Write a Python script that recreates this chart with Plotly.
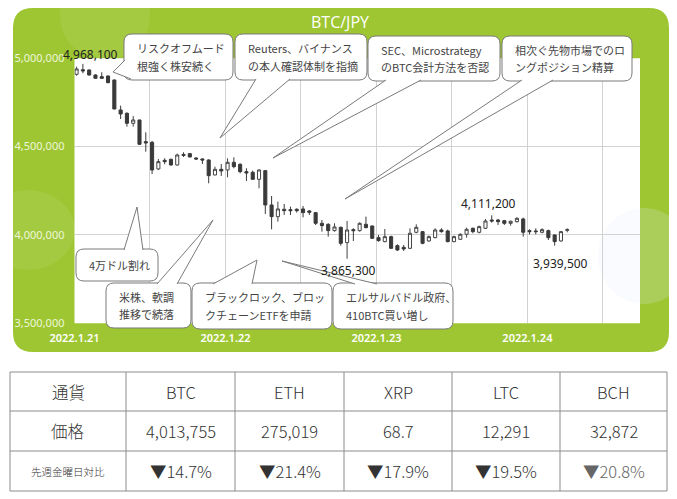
import pandas as pd
import plotly.graph_objects as go

W, H = 677, 499
OFF = 8  # the page body adds an 8px margin, so the figure is drawn 8px smaller and shifted
FW, FH = W - OFF, H - OFF

# hourly BTC/JPY candles from 2022.1.21 (one per hour, 79 bars)
start = "2022-01-21 00:20"
opens = [4909600, 4935600, 4933700, 4905600, 4896100, 4900000, 4877300, 4707500, 4688600, 4632000,
         4650900, 4528300, 4524500, 4373600, 4422600, 4428300, 4396200, 4456000, 4460400, 4435800,
         4430200, 4424500, 4339600, 4371700, 4367900, 4411300, 4400000, 4358500, 4354700, 4315100,
         4364100, 4169800, 4103800, 4145300, 4143400, 4145300, 4147200, 4135800, 4126400, 4066000,
         4060400, 4024500, 4043400, 3956600, 4030200, 4024500, 4060400, 4050900, 3984900, 3962300,
         3990600, 3939600, 3930200, 3924500, 4015100, 4018900, 3966000, 3984900, 4028300, 4022700,
         3962300, 3975500, 4003800, 4037700, 4015100, 4037700, 4084900, 4084900, 4081100, 4066000,
         4075500, 4090600, 4024500, 4022700, 4015100, 4024500, 4000000, 3966000, 4026400]
highs = [4952600, 4968100, 4937500, 4909000, 4920700, 4901900, 4879200, 4732000, 4694400, 4673500,
         4652000, 4581100, 4532000, 4430200, 4434000, 4432000, 4460400, 4467900, 4464200, 4439600,
         4433900, 4428300, 4386800, 4401900, 4433900, 4439600, 4405600, 4377300, 4364100, 4371700,
         4367900, 4220700, 4188700, 4175500, 4160400, 4150900, 4164100, 4141500, 4130200, 4084900,
         4066000, 4066000, 4047200, 4079200, 4037700, 4071700, 4103800, 4052800, 4000000, 4034000,
         3996200, 3947200, 3943400, 4037700, 4060400, 4022700, 3996200, 4037700, 4037700, 4030200,
         3996200, 4009400, 4041500, 4041500, 4052800, 4090600, 4111200, 4090600, 4084900, 4081100,
         4100000, 4098100, 4032100, 4037700, 4037700, 4030200, 4003800, 4022700, 4037700]
lows = [4901600, 4915100, 4901600, 4884800, 4882900, 4858400, 4711300, 4656600, 4613200, 4613200,
        4509400, 4471700, 4345300, 4367900, 4400000, 4392400, 4392400, 4441500, 4439600, 4424500,
        4401900, 4292400, 4337700, 4333900, 4326400, 4377300, 4349000, 4305600, 4311300, 4264100,
        4118900, 4032100, 4075500, 4113200, 4113200, 4126400, 4100000, 4113200, 4056600, 4018900,
        3990600, 4018900, 3939600, 3865300, 3966000, 4018900, 4037700, 3977400, 3962300, 3958500,
        3920700, 3909400, 3909400, 3920700, 4009400, 3947200, 3962300, 3981100, 4013200, 3958500,
        3958500, 3971700, 3984900, 4009400, 4009400, 4034000, 4069800, 4056600, 4056600, 4052800,
        4069800, 3990600, 4003800, 4003800, 4009400, 3971700, 3939500, 3962300, 4015100]
closes = [4939600, 4928200, 4905600, 4886700, 4886700, 4862200, 4713200, 4684900, 4632000, 4650900,
          4513200, 4520700, 4367900, 4415100, 4415100, 4396200, 4452800, 4450000, 4441500, 4430200,
          4424500, 4335800, 4371700, 4362200, 4411300, 4386800, 4358500, 4350900, 4315100, 4367900,
          4169800, 4103800, 4147200, 4137700, 4137700, 4137700, 4126400, 4128300, 4066000, 4052800,
          4024500, 4045300, 3952800, 4028300, 4024500, 4066000, 4041500, 3981100, 3967900, 3990600,
          3924500, 3915100, 3920700, 4009400, 4043400, 3952800, 3990600, 4028300, 4018900, 3962300,
          3990600, 4003800, 4032100, 4018900, 4047200, 4079200, 4079200, 4075500, 4066000, 4077400,
          4094300, 4015100, 4018900, 4018900, 4030200, 3984900, 3962300, 4018900, 4030200]

times = pd.date_range(start, periods=len(opens), freq="h")

# labelled highs / lows: (bar index, "high"/"low")
marks = [(1, "high"), (43, "low"), (66, "high"), (76, "low")]

# callouts: box (left, top, right, bottom), text lines, tail (base1, tip, base2)
callouts = [
    ((124, 34, 233, 80), ["リスクオフムード", "根強く株安続く"], ((125, 60), (113, 72), (131, 79))),
    ((235, 34, 367, 80), ["Reuters、バイナンス", "の本人確認体制を指摘"], ((256, 79), (220, 138), (290, 79))),
    ((368, 36, 500, 81), ["SEC、Microstrategy", "のBTC会計方法を否認"], ((386, 80), (273, 158), (421, 80))),
    ((502, 36, 632, 81), ["相次ぐ先物市場でのロ", "ングポジション精算"], ((522, 80), (345, 199), (553, 80))),
    ((76, 249, 158, 281), ["4万ドル割れ"], ((124, 250), (137, 207), (143, 250))),
    ((106, 283, 191, 328), ["米株、軟調", "推移で続落"], ((157, 284), (213, 220), (177, 284))),
    ((192, 283, 332, 329), ["ブラックロック、ブロッ", "クチェーンETFを申請"], ((213, 284), (257, 260), (252, 284))),
    ((333, 283, 453, 329), ["エルサルバドル政府、", "410BTC買い増し"], ((355, 284), (282, 261), (377, 284))),
]

# table below the chart
table_rows = [
    ["通貨", "BTC", "ETH", "XRP", "LTC", "BCH"],
    ["価格", "4,013,755", "275,019", "68.7", "12,291", "32,872"],
    ["先週金曜日対比", "▼14.7%", "▼21.4%", "▼17.9%", "▼19.5%", "▼20.8%"],
]
col_edges = [10, 126, 235, 344, 452, 560, 667]
row_edges = [372, 411, 451, 491]

GREEN = "#9dc632"
GRID = "#d2d2d2"
JP = "Noto Sans CJK JP"


def fx(x):
    return (x - OFF) / FW


def fy(y):
    return 1 - (y - OFF) / FH


def p(x, y):
    return f"{fx(x):.5f},{fy(y):.5f}"


def rrect(x0, y0, x1, y1, r):
    return (f"M {p(x0 + r, y0)} L {p(x1 - r, y0)} Q {p(x1, y0)} {p(x1, y0 + r)} "
            f"L {p(x1, y1 - r)} Q {p(x1, y1)} {p(x1 - r, y1)} "
            f"L {p(x0 + r, y1)} Q {p(x0, y1)} {p(x0, y1 - r)} "
            f"L {p(x0, y0 + r)} Q {p(x0, y0)} {p(x0 + r, y0)} Z")


def blob(x0, y0, x1, y1, color):
    return dict(type="circle", xref="paper", yref="paper", x0=fx(x0), x1=fx(x1),
                y0=fy(y1), y1=fy(y0), fillcolor=color, line=dict(width=0), layer="below")


fig = go.Figure(go.Candlestick(
    x=times, open=opens, high=highs, low=lows, close=closes,
    increasing=dict(line=dict(color="#444444", width=1), fillcolor="white"),
    decreasing=dict(line=dict(color="#3a3a3a", width=1), fillcolor="#3a3a3a"),
    whiskerwidth=0, showlegend=False, hoverinfo="skip",
))

shapes = [
    dict(type="path", xref="paper", yref="paper", path=rrect(13, 8, 669, 352, 20),
         fillcolor=GREEN, line=dict(width=0), layer="below"),
    # faint background decorations
    blob(60, -30, 150, 60, "rgba(255,255,255,0.08)"),
    blob(-20, 190, 75, 270, "rgba(255,255,255,0.07)"),
    dict(type="rect", xref="paper", yref="paper", x0=fx(74.5), x1=fx(640),
         y0=fy(323.3), y1=fy(58.3), fillcolor="white", line=dict(width=0), layer="below"),
    blob(598, 208, 690, 304, "rgba(232,236,250,0.2)"),
]

annotations = [
    dict(text="BTC/JPY", x=fx(340), y=fy(22), xref="paper", yref="paper", showarrow=False,
         xanchor="center", yanchor="middle",
         font=dict(family="Open Sans", size=16, color="white")),
]

for i, kind in marks:
    val = highs[i] if kind == "high" else lows[i]
    annotations.append(dict(
        x=times[i], y=val, text=f"{val:,}", showarrow=False, xanchor="center",
        yanchor="bottom" if kind == "high" else "top",
        xshift={1: 8, 43: 1, 66: -3, 76: 6}[i],
        yshift={1: -1, 43: -1, 66: 1, 76: -7}[i],
        font=dict(family="Noto Sans", size=12, color="#222222"),
    ))

for (x0, y0, x1, y1), lines, (b1, tip, b2) in callouts:
    shapes.append(dict(type="path", xref="paper", yref="paper", path=rrect(x0, y0, x1, y1, 8),
                       fillcolor="white", line=dict(color="#7a7a7a", width=1), layer="above"))
    # tail: white wedge over the border, then its two edges
    shapes.append(dict(type="path", xref="paper", yref="paper",
                       path=f"M {p(*b1)} L {p(*tip)} L {p(*b2)} Z",
                       fillcolor="white", line=dict(width=0), layer="above"))
    shapes.append(dict(type="path", xref="paper", yref="paper",
                       path=f"M {p(*b1)} L {p(*tip)} L {p(*b2)}",
                       line=dict(color="#7a7a7a", width=1), layer="above"))
    n = len(lines)
    cy = (y0 + y1) / 2
    for k, t in enumerate(lines):
        ly = cy + (k - (n - 1) / 2) * 17.5
        annotations.append(dict(text=t, x=fx(x0 + 11), y=fy(ly), xref="paper", yref="paper",
                                xanchor="left", yanchor="middle", showarrow=False,
                                font=dict(family=JP, size=11, color="#444444")))

# table grid
for x in col_edges:
    shapes.append(dict(type="line", xref="paper", yref="paper", x0=fx(x), x1=fx(x),
                       y0=fy(row_edges[0]), y1=fy(row_edges[-1]),
                       line=dict(color="#8c8c8c", width=1)))
for y in row_edges:
    shapes.append(dict(type="line", xref="paper", yref="paper", x0=fx(col_edges[0]), x1=fx(col_edges[-1]),
                       y0=fy(y), y1=fy(y), line=dict(color="#8c8c8c", width=1)))

for r, row in enumerate(table_rows):
    cy = (row_edges[r] + row_edges[r + 1]) / 2
    for c, t in enumerate(row):
        cx = (col_edges[c] + col_edges[c + 1]) / 2
        small = (r == 2 and c == 0)
        color = "#666666" if (r == 2 and c == 5) else "#333333"
        annotations.append(dict(text=t, x=fx(cx), y=fy(cy), xref="paper", yref="paper",
                                showarrow=False, xanchor="center", yanchor="middle",
                                font=dict(family=JP, size=10.5 if small else 16.5, color=color,
                                          weight=300)))

fig.update_layout(
    width=FW, height=FH, margin=dict(l=0, r=0, t=0, b=0, autoexpand=False),
    paper_bgcolor="white", plot_bgcolor="rgba(0,0,0,0)", showlegend=False,
    shapes=shapes, annotations=annotations,
)

fig.update_xaxes(
    domain=[fx(74.5), fx(640)], range=["2022-01-21 00:00", "2022-01-24 17:54"],
    type="date", tickformat="%Y.%-m.%-d", tick0="2022-01-21", dtick=86400000,
    showgrid=True, gridcolor=GRID, gridwidth=1,
    minor=dict(dtick=43200000, showgrid=True, gridcolor=GRID),
    tickfont=dict(family="Noto Sans", size=11, color="white", weight=600),
    ticklabelstandoff=7, rangeslider=dict(visible=False), zeroline=False, showline=False,
    automargin=False,
)
fig.update_yaxes(
    domain=[fy(323.3), fy(58.3)], range=[3500000, 5000000], dtick=500000, tickformat=",d",
    showgrid=True, gridcolor=GRID, gridwidth=1, zeroline=False, showline=False,
    tickfont=dict(family="Noto Sans", size=11, color="#eef6da"), ticklabelstandoff=9,
    automargin=False,
)

fig.write_html("out.html")
